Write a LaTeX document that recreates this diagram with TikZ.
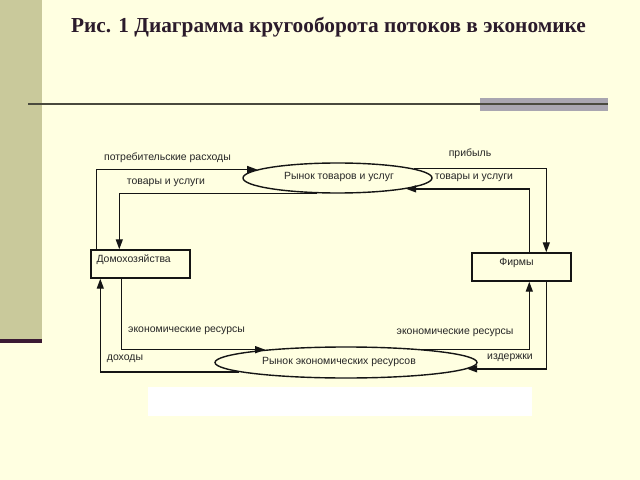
\documentclass[tikz,border=0pt]{standalone}
\usepackage{fontspec}
\setmainfont{Liberation Serif}
\newfontfamily\labfont{Liberation Sans}
\usetikzlibrary{arrows.meta,shapes.geometric,calc}
\definecolor{bgc}{HTML}{FFFFE1}
\definecolor{barc}{HTML}{C9C99B}
\definecolor{darkbar}{HTML}{3B1A33}
\definecolor{titlec}{HTML}{2B1B2B}
\definecolor{rulec}{HTML}{4A4A3E}
\definecolor{greybox}{HTML}{A9A6B0}
\definecolor{linec}{HTML}{151515}
\begin{document}
\begin{tikzpicture}[x=1bp,y=-1bp,
  lbl/.style={font=\labfont\fontsize{10.5}{12}\selectfont, text=black!85, inner sep=0pt},
  boxn/.style={draw=linec, line width=1.4bp, rectangle, inner sep=0pt},
  mkt/.style={draw=linec, line width=1.4bp, ellipse, inner sep=0pt},
  flow/.style={draw=linec, line width=1.4bp, -{Triangle[length=10bp,width=7bp]}},
  plain/.style={draw=linec, line width=1.4bp}]
% background and frame
\fill[bgc] (0,0) rectangle (640,480);
\useasboundingbox (0,0) rectangle (640,480);
\fill[barc] (0,0) rectangle (42,340);
\fill[darkbar] (0,339) rectangle (42,343);
\fill[greybox] (480,98) rectangle (608,111);
\draw[rulec, line width=1.6bp] (28,104) -- (608,104);
\node[font=\fontsize{21.4}{25}\selectfont\bfseries, text=titlec] (title) at (328.5,27) {Рис. 1 Диаграмма кругооборота потоков в экономике};
% white strip
\fill[white] (148,387) rectangle (532,416);
% nodes
\node[boxn, minimum width=99bp, minimum height=28bp] (hh) at (140.5,264) {};
\node[lbl, anchor=west] (hhtext) at ($(hh.west)+(6,-4)$) {Домохозяйства};
\node[boxn, minimum width=99bp, minimum height=28bp] (firms) at (521.5,267) {};
\node[lbl] (firmstext) at ($(firms.center)+(-5,-4)$) {Фирмы};
\node[mkt, minimum width=189bp, minimum height=30bp] (gm) at (337.5,178) {};
\node[lbl] (gmtext) at (339,177) {Рынок товаров и услуг};
\node[mkt, minimum width=262bp, minimum height=31bp] (rm) at (346,362.5) {};
\node[lbl] (rmtext) at (339,362) {Рынок экономических ресурсов};
% connectors
\draw[flow] ($(hh.north west)+(6,0)$) |- (gm.174);
\draw[flow] (gm.217) -| ($(hh.north west)+(29,0)$);
\draw[flow] (gm.7) -| ($(firms.north west)+(75,0)$);
\draw[flow] ($(firms.north west)+(58,0)$) |- (gm.351);
\draw[flow] ($(hh.south west)+(31,0)$) |- (rm.171);
\draw[flow] (rm.185) -| ($(hh.south west)+(10,0)$);
\draw[flow] (rm.10) -| ($(firms.south west)+(58,0)$);
\draw[flow] ($(firms.south west)+(75,0)$) |- (rm.357);
% labels
\node[lbl] (l1) at (167.5,158) {потребительские расходы};
\node[lbl] (l2) at (166,183) {товары и услуги};
\node[lbl] (l3) at (470,154) {прибыль};
\node[lbl] (l4) at (474,178) {товары и услуги};
\node[lbl] (l5) at (186.5,331) {экономические ресурсы};
\node[lbl] (l6) at (125,359) {доходы};
\node[lbl] (l7) at (455,333) {экономические ресурсы};
\node[lbl] (l8) at (510,358) {издержки};
\end{tikzpicture}
\end{document}
